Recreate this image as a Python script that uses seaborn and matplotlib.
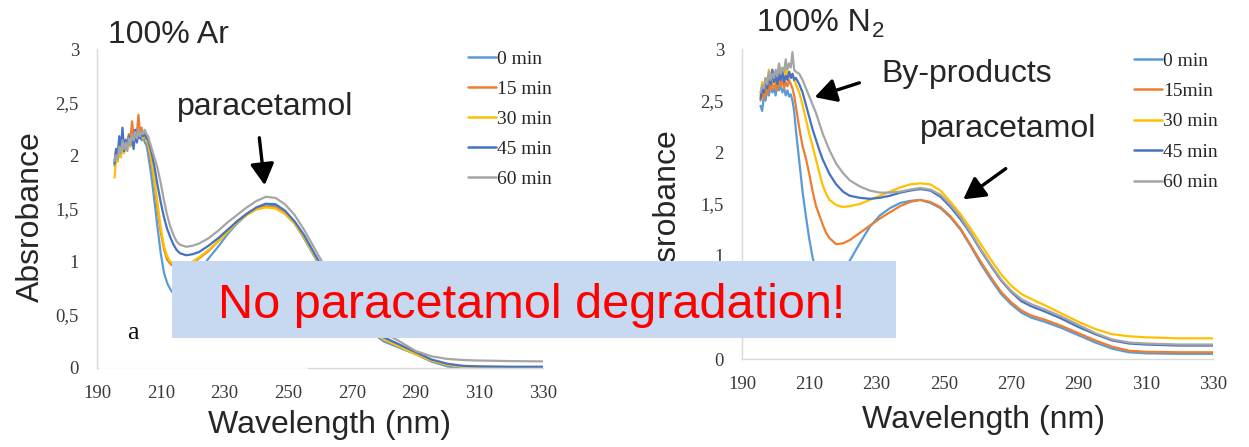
import numpy as np
import pandas as pd
import matplotlib
matplotlib.use("Agg")
import matplotlib.pyplot as plt
from matplotlib.patches import Rectangle, FancyArrowPatch
import seaborn as sns

# ---------------- data ----------------
WL = [195.5, 196, 196.5, 197, 197.5, 198, 198.5, 199, 199.5, 200, 200.5, 201,
      201.5, 202, 202.5, 203, 203.5, 204, 204.5, 205, 205.5, 206,
      207, 208, 209, 210, 211, 212, 213, 214, 215, 216, 218, 220, 222,
      225, 228, 231, 234, 237, 240, 243, 246, 249, 252, 255, 258,
      261, 264, 267, 270, 273, 276, 280, 285, 290, 295, 300, 305, 310, 320, 330]

LABELS_AR = ["0 min", "15 min", "30 min", "45 min", "60 min"]
LABELS_N2 = ["0 min", "15min", "30 min", "45 min", "60 min"]
COLORS = ["#5B9BD5", "#ED7D31", "#FFC000", "#4472C4", "#A5A5A5"]

AR_0 = [1.90, 2.02, 1.95, 2.08, 2.00, 2.12, 2.05, 2.15, 2.08, 2.18, 2.10, 2.20,
        2.12, 2.22, 2.15, 2.18, 2.20, 2.14, 2.18, 2.12, 2.10, 2.02,
        1.82, 1.58, 1.32, 1.08, 0.90, 0.80, 0.74, 0.70, 0.68, 0.68, 0.72, 0.80, 0.90,
        1.03, 1.14, 1.26, 1.36, 1.44, 1.50, 1.54, 1.52, 1.45, 1.36, 1.22, 1.06,
        0.90, 0.76, 0.63, 0.52, 0.42, 0.34, 0.25, 0.19, 0.13, 0.06, 0.015, -0.01, -0.02, -0.02, -0.02]
AR_15 = [1.95, 2.05, 1.98, 2.12, 2.02, 2.18, 2.06, 2.14, 2.10, 2.20, 2.15, 2.32,
         2.18, 2.24, 2.20, 2.38, 2.22, 2.26, 2.18, 2.22, 2.16, 2.10,
         1.95, 1.75, 1.50, 1.28, 1.12, 1.02, 0.98, 0.96, 0.95, 0.95, 0.96, 0.99, 1.03,
         1.10, 1.19, 1.29, 1.38, 1.45, 1.50, 1.52, 1.51, 1.46, 1.37, 1.24, 1.08,
         0.92, 0.78, 0.65, 0.54, 0.44, 0.36, 0.28, 0.21, 0.14, 0.07, 0.03, 0.015, 0.01, 0.008, 0.008]
AR_30 = [1.79, 1.98, 1.94, 2.06, 1.98, 2.10, 2.02, 2.12, 2.05, 2.16, 2.08, 2.18,
         2.12, 2.20, 2.14, 2.22, 2.18, 2.20, 2.16, 2.20, 2.14, 2.12,
         1.98, 1.78, 1.55, 1.32, 1.15, 1.05, 1.00, 0.98, 0.97, 0.97, 0.98, 1.00, 1.04,
         1.11, 1.19, 1.28, 1.37, 1.44, 1.49, 1.51, 1.50, 1.45, 1.36, 1.23, 1.07,
         0.91, 0.77, 0.64, 0.53, 0.43, 0.35, 0.27, 0.20, 0.13, 0.07, 0.03, 0.015, 0.01, 0.006, 0.005]
AR_45 = [1.92, 2.06, 2.00, 2.18, 2.06, 2.26, 2.04, 2.14, 2.08, 2.18, 2.10, 2.16,
         2.06, 2.24, 2.12, 2.20, 2.16, 2.22, 2.18, 2.20, 2.16, 2.15,
         2.04, 1.90, 1.72, 1.56, 1.42, 1.31, 1.23, 1.16, 1.11, 1.08, 1.06, 1.07, 1.09,
         1.15, 1.22, 1.30, 1.38, 1.45, 1.51, 1.545, 1.54, 1.48, 1.38, 1.25, 1.09,
         0.93, 0.79, 0.66, 0.55, 0.45, 0.37, 0.29, 0.22, 0.15, 0.08, 0.04, 0.02, 0.015, 0.012, 0.012]
AR_60 = [1.95, 2.00, 1.96, 2.08, 2.02, 2.14, 2.06, 2.12, 2.04, 2.16, 2.10, 2.20,
         2.14, 2.22, 2.16, 2.24, 2.18, 2.22, 2.20, 2.24, 2.20, 2.18,
         2.08, 1.98, 1.88, 1.74, 1.58, 1.44, 1.33, 1.25, 1.19, 1.16, 1.14, 1.15, 1.17,
         1.22, 1.29, 1.37, 1.44, 1.51, 1.57, 1.61, 1.60, 1.54, 1.44, 1.30, 1.14,
         0.98, 0.84, 0.71, 0.60, 0.50, 0.42, 0.33, 0.25, 0.16, 0.11, 0.085, 0.075, 0.07, 0.065, 0.062]

N2_0 = [2.45, 2.40, 2.55, 2.50, 2.62, 2.55, 2.65, 2.58, 2.62, 2.55, 2.68, 2.60,
        2.65, 2.58, 2.62, 2.55, 2.60, 2.54, 2.56, 2.50, 2.40, 2.22,
        1.92, 1.62, 1.38, 1.16, 0.98, 0.85, 0.75, 0.68, 0.65, 0.64, 0.68, 0.80, 0.95,
        1.12, 1.28, 1.39, 1.46, 1.51, 1.53, 1.54, 1.51, 1.46, 1.37, 1.25, 1.09,
        0.92, 0.77, 0.63, 0.53, 0.45, 0.40, 0.36, 0.30, 0.23, 0.16, 0.10, 0.065, 0.055, 0.05, 0.05]
N2_15 = [2.50, 2.58, 2.52, 2.62, 2.56, 2.66, 2.60, 2.70, 2.62, 2.68, 2.60, 2.72,
         2.64, 2.70, 2.62, 2.68, 2.64, 2.70, 2.66, 2.62, 2.55, 2.45,
         2.24, 2.06, 1.94, 1.79, 1.62, 1.48, 1.39, 1.30, 1.22, 1.17, 1.11, 1.12, 1.15,
         1.22, 1.29, 1.36, 1.42, 1.48, 1.52, 1.54, 1.52, 1.47, 1.38, 1.26, 1.10,
         0.94, 0.79, 0.65, 0.55, 0.47, 0.42, 0.38, 0.32, 0.25, 0.18, 0.12, 0.08, 0.07, 0.065, 0.065]
N2_30 = [2.55, 2.68, 2.60, 2.72, 2.65, 2.80, 2.68, 2.75, 2.66, 2.78, 2.70, 2.85,
         2.72, 2.78, 2.70, 2.82, 2.74, 2.78, 2.72, 2.76, 2.70, 2.66,
         2.58, 2.46, 2.32, 2.18, 2.06, 1.93, 1.80, 1.68, 1.60, 1.54, 1.49, 1.47, 1.48,
         1.50, 1.54, 1.58, 1.62, 1.66, 1.69, 1.70, 1.69, 1.63, 1.52, 1.40, 1.26,
         1.11, 0.96, 0.82, 0.71, 0.63, 0.58, 0.52, 0.44, 0.36, 0.29, 0.24, 0.22, 0.21, 0.20, 0.20]
N2_45 = [2.52, 2.62, 2.58, 2.70, 2.62, 2.74, 2.66, 2.80, 2.68, 2.74, 2.66, 2.76,
         2.70, 2.78, 2.68, 2.74, 2.70, 2.78, 2.72, 2.76, 2.70, 2.72,
         2.66, 2.58, 2.46, 2.34, 2.22, 2.12, 2.02, 1.93, 1.86, 1.79, 1.69, 1.62, 1.58,
         1.56, 1.55, 1.56, 1.58, 1.61, 1.63, 1.645, 1.63, 1.57, 1.47, 1.35, 1.21,
         1.05, 0.90, 0.76, 0.65, 0.56, 0.51, 0.46, 0.39, 0.31, 0.24, 0.18, 0.15, 0.14, 0.13, 0.13]
N2_60 = [2.58, 2.65, 2.62, 2.72, 2.66, 2.78, 2.70, 2.76, 2.72, 2.80, 2.74, 2.86,
         2.76, 2.82, 2.78, 2.90, 2.80, 2.86, 2.82, 2.97, 2.80, 2.78,
         2.76, 2.70, 2.62, 2.54, 2.46, 2.38, 2.28, 2.18, 2.10, 2.02, 1.89, 1.80, 1.73,
         1.67, 1.63, 1.61, 1.61, 1.62, 1.64, 1.655, 1.64, 1.59, 1.49, 1.37, 1.22,
         1.06, 0.91, 0.77, 0.66, 0.58, 0.53, 0.48, 0.41, 0.33, 0.25, 0.19, 0.16, 0.15, 0.14, 0.14]

X_TICKS = [190, 210, 230, 250, 270, 290, 310, 330]
Y_TICKS = [0, 0.5, 1, 1.5, 2, 2.5, 3]
Y_TICKLABELS = ["0", "0,5", "1", "1,5", "2", "2,5", "3"]

# ---------------- figure ----------------
W, H = 1249, 447
sns.set_style("white")
plt.rcParams["font.family"] = ["Liberation Sans", "DejaVu Sans"]

fig = plt.figure(figsize=(W / 100, H / 100), dpi=100)


def fx(x):
    return x / W


def fy(y):
    return 1 - y / H


def axes_px(x0, x1, ytop, ybot):
    return fig.add_axes([fx(x0), fy(ybot), fx(x1) - fx(x0), fy(ytop) - fy(ybot)])


axL = axes_px(97, 543, 49, 368)
axR = axes_px(742, 1213, 49, 359)


def build(labels, series):
    rows = []
    for lab, vals in zip(labels, series):
        for w, v in zip(WL, vals):
            rows.append((w, v, lab))
    return pd.DataFrame(rows, columns=["wl", "abs", "time"])


panels = [
    (axL, LABELS_AR, [AR_0, AR_15, AR_30, AR_45, AR_60], 468, 50, 0.64),
    (axR, LABELS_N2, [N2_0, N2_15, N2_30, N2_45, N2_60], 1134, 52, 0.66),
]

for ax, labels, series, lx, ly, lsp in panels:
    df = build(labels, series)
    sns.lineplot(data=df, x="wl", y="abs", hue="time", hue_order=labels,
                 palette=dict(zip(labels, COLORS)), estimator=None, sort=False,
                 linewidth=1.6, ax=ax)
    leg = ax.get_legend()
    handles = leg.legend_handles
    labs = [t.get_text() for t in leg.get_texts()]
    leg.remove()
    for h in handles:
        h.set_linewidth(1.8)
    ax.legend(handles, labs, loc="upper left",
              bbox_to_anchor=(fx(lx), fy(ly)), bbox_transform=fig.transFigure,
              frameon=False, borderpad=0, borderaxespad=0, handlelength=1.45,
              handletextpad=0.05, labelspacing=lsp,
              prop={"family": "Liberation Serif", "size": 14}, labelcolor="#262626")
    ax.set_xlim(190, 330)
    ax.set_ylim(0, 3)
    ax.set_xticks(X_TICKS, labels=[str(t) for t in X_TICKS],
                  fontsize=13.5, family="Liberation Serif", color="#3a3a3a")
    ax.set_yticks(Y_TICKS, labels=Y_TICKLABELS,
                  fontsize=13.5, family="Liberation Serif", color="#3a3a3a")
    ax.tick_params(axis="both", length=0)
    ax.tick_params(axis="x", pad=12)
    ax.tick_params(axis="y", pad=13)
    ax.set_xlabel("")
    ax.set_ylabel("")
    for s in ["top", "right"]:
        ax.spines[s].set_visible(False)
    for s in ["left", "bottom"]:
        ax.spines[s].set_color("#D9D9D9")
        ax.spines[s].set_linewidth(1.0)
    ax.patch.set_alpha(0)

# ---------------- texts ----------------
big = 23
fig.text(fx(108), fy(43), "100% Ar", fontsize=big, ha="left", va="baseline")
fig.text(fx(757), fy(31), "100% N", fontsize=big, ha="left", va="baseline")
fig.text(fx(872), fy(37), "2", fontsize=16, ha="left", va="baseline")
fig.text(fx(265), fy(115), "paracetamol", fontsize=big, ha="center", va="baseline")
fig.text(fx(1008), fy(137), "paracetamol", fontsize=big, ha="center", va="baseline")
fig.text(fx(967), fy(82), "By-products", fontsize=big, ha="center", va="baseline")
fig.text(fx(329), fy(433), "Wavelength (nm)", fontsize=big, ha="center", va="baseline")
fig.text(fx(983), fy(428), "Wavelength (nm)", fontsize=big, ha="center", va="baseline")
fig.text(fx(31), fy(217), "Absrobance", fontsize=big, rotation=90, ha="center", va="center")
fig.text(fx(668), fy(215), "Absrobance", fontsize=big, rotation=90, ha="center", va="center")
fig.text(fx(133), fy(333), "a", fontsize=19, family="Liberation Serif",
         ha="center", va="center", color="#111111")

# arrows
def arrow(x0, y0, x1, y1):
    a = FancyArrowPatch((fx(x0), fy(y0)), (fx(x1), fy(y1)), transform=fig.transFigure,
                        arrowstyle="-|>,head_length=0.65,head_width=0.36",
                        mutation_scale=20, lw=2.4, color="black", zorder=6)
    fig.add_artist(a)


arrow(259, 135, 265, 188)
arrow(862, 82, 812, 98)
arrow(1008, 167, 961, 201)

# white veil over lower-left corner of left panel
fig.add_artist(Rectangle((fx(99), fy(372)), fx(308) - fx(99), fy(339) - fy(372),
                         transform=fig.transFigure, facecolor="white", alpha=0.85,
                         edgecolor="none", zorder=4))

# highlight box
fig.add_artist(Rectangle((fx(172), fy(338)), fx(896) - fx(172), fy(261) - fy(338),
                         transform=fig.transFigure, facecolor="#C6D9F0",
                         edgecolor="none", zorder=5))
fig.text(fx(532), fy(318), "No paracetamol degradation!", fontsize=35, color="#FF0000",
         ha="center", va="baseline", zorder=7)

fig.savefig("out.png", dpi=100)
